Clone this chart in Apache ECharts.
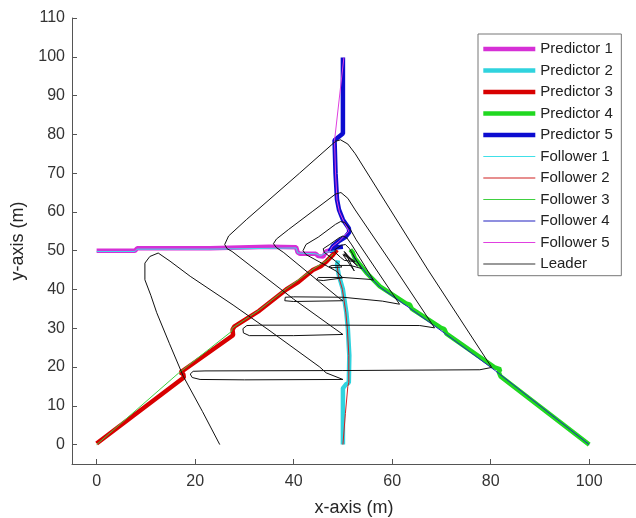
<!DOCTYPE html>
<html>
<head>
<meta charset="utf-8">
<title>Predictor / Follower trajectories</title>
<script src="https://cdn.jsdelivr.net/npm/echarts@6/dist/echarts.min.js"></script>
<style>
  body { margin: 0; background: #fff; }
</style>
</head>
<body>
<div id="main" style="width: 636px; height: 518px;"></div>
<script>
// tick labels
var xTicks = [0, 20, 40, 60, 80, 100];
var yTicks = [0, 10, 20, 30, 40, 50, 60, 70, 80, 90, 100, 110];

// thick lines (predictors), [x, y] in metres
var predictor1 = [[0,50],[7.8,50],[8.2,50.6],[23,50.6],[23.4,51.1],[35,51],[40.5,50.9],[40.8,49.6],[41.3,49.2],[44.5,49.2],[45,48.6],[46,48.5],[46.6,49.8],[47.8,50.3],[48.5,50]];
var predictor2 = [[50,0],[50,14.5],[50.6,15.5],[51.2,16],[51.3,23],[51,30],[50.7,34],[50,40],[49.2,43.5],[48.8,46.3],[49,47.5]];
var predictor3 = [[0,0.3],[17.7,17.3],[17.6,18.2],[17,18.6],[27.7,28.2],[27.6,29.7],[28,30.5],[33,34.5],[38.5,40],[41,42],[43.9,45],[45.5,46],[46.7,47.3],[48,49],[48.8,50.2]];
var predictor4 = [[100,0],[82,17.6],[81.6,18.8],[82,19.4],[80.8,19.9],[71,28.6],[70.6,29.8],[69.8,30.2],[64,35],[63.6,36.1],[62.8,36.4],[57.5,40.8],[54.8,44.3],[52.4,48.1],[52,49.5],[51.5,50.3]];
var predictor5 = [[50,99.8],[50,80.2],[48.3,78.5],[48.5,70],[48.8,63.2],[49.2,60.6],[50,58],[51.2,55.8],[51.3,54.8],[50.5,53.5],[49.2,52.5],[48,51.2],[47.3,49.8],[48.5,50.8],[50,51]];

// thin lines (followers)
var follower1 = [[0,49.8],[7.8,49.8],[8.2,50.4],[23,50.4],[23.4,50.9],[40.5,50.7],[40.8,49.4],[44.5,49.2],[45.5,48.7],[46.6,49.6],[48.5,50]];
var follower2 = [[50,0],[50.5,8],[51,15],[51.2,16],[51.2,23],[50.9,30],[50.6,34],[49.9,40],[49.1,43.5],[48.8,46.3]];
var follower3 = [[0,0],[16.6,18.4],[27.4,29.2],[27.5,30],[33,34.7],[38.5,40.2],[43.9,45.2],[46.7,47.5],[48,49.2]];
var follower4 = [[100,0],[81,19],[71,28.4],[64,34.8],[57.5,40.6],[54.8,44.1],[52.4,47.9],[52,49]];
var follower5 = [[50.2,99.8],[48.3,78.4],[48.5,70],[48.8,63],[49.3,60],[50.2,57.5],[51.2,55],[49.3,52.5],[47.8,51],[47.3,49.8]];

// leader spiral
var leader = [
  [25,0],[21.5,8.5],[17.6,17.6],[14.8,26],[12.2,34],[11,38.5],[9.8,42.5],[9.8,46.8],[10.8,48.5],[12.5,49.4],[14.9,47.3],
  [19,43.4],[27.7,36],[35,29.5],[45.3,20],[46.6,18.5],[50,16.8],
  [30,16.7],[21,16.8],[19.4,17.3],[19,18.2],[19.6,18.9],[22,19],[50,19.1],[77.8,19.3],[80.2,19.9],
  [67.3,45],[52.5,75],[51,77.5],[49.5,78.6],[48.5,78.2],
  [41.2,70],[30.4,58],[26.8,53.8],[26,51.6],[26.5,50.5],[27.5,49.8],[40,37.5],[48,30.2],[50,28.4],
  [40,28.1],[31,28.1],[29.8,28.8],[29.7,29.9],[30.5,30.7],[33,30.8],[50,30.8],[65.6,30.7],[68.6,30.1],
  [60.8,45],[52.5,60.5],[51,63.5],[49.6,65],[48.5,64.6],
  [43.9,60.2],[39,55.5],[36.5,53],[35.9,51.8],[36.5,50.8],[38,49.5],[49,38],[50,37.1],
  [40,36.9],[38.2,37.1],[37.8,37.6],[38.3,38],[40,38.1],[50,38],[58,37],[61.5,36.2],
  [52.7,52.8],[51.5,55.5],[50.3,57.3],[49.5,57.5],[48.5,56.8],
  [45,53.5],[42.5,51.6],[41.9,50],[42.5,49],[48.7,44.7],[50,43],
  [46,42.3],[44.6,42.5],[44.4,42.9],[45,43.1],[50,43.1],[55.5,42.6],[56.2,42.4],
  [53.5,48],[51.8,51.5],[50.8,53.3],[50,53.8],[49.2,53.3],
  [47.2,51.5],[46,50.5],[46.2,49.6],[48.5,47.3],[49.8,45.8],
  [47.8,45.6],[47.2,45.9],[47.8,46.2],[51.5,46.2],[53.8,45.4],
  [52.4,48.2],[51.3,50.6],[50.5,51.6],[49.7,51.4],[48.4,50.3],[48.4,49.6],[49.5,48.3],[50.3,47.5],
  [52.5,47.2],[50.2,49.2],[53,46],[50.4,49.6],[52.3,44.8],[50,49],[51.5,47.8],[50.2,49.9]
];

var colors = {
  p1: '#d630d6', p2: '#30d3de', p3: '#d80000', p4: '#20d820', p5: '#0c0cd0',
  f1: '#40e0e8', f2: '#d02020', f3: '#40d040', f4: '#2020c0', f5: '#e040e0', leader: '#111'
};

function line(name, data, color, width) {
  return {
    name: name,
    type: 'line',
    data: data,
    symbol: 'none',
    showSymbol: false,
    color: color,
    lineStyle: { color: color, width: width },
    animation: false,
    silent: true
  };
}

var thick = 'path://M0,0H52V4.5H0Z';
var thin = 'path://M0,0H52V1H0Z';
var font = 'Liberation Sans, Arial, sans-serif';

var option = {
  backgroundColor: '#fff',
  // fixed plot box, no auto shrink for labels
  grid: { left: 72, right: 0, top: 18, bottom: 54, containLabel: false, outerBoundsMode: 'none' },
  legend: {
    orient: 'vertical',
    left: 478,
    top: 34,
    padding: [7.5, 8.5, 4.2, 5.3],
    itemWidth: 52,
    itemHeight: 14,
    itemGap: 6.5,
    borderColor: '#777',
    borderWidth: 1,
    backgroundColor: '#fff',
    itemStyle: { borderWidth: 0 },
    textStyle: { fontSize: 15, color: '#222', fontFamily: font },
    data: [
      { name: 'Predictor 1', icon: thick },
      { name: 'Predictor 2', icon: thick },
      { name: 'Predictor 3', icon: thick },
      { name: 'Predictor 4', icon: thick },
      { name: 'Predictor 5', icon: thick },
      { name: 'Follower 1', icon: thin },
      { name: 'Follower 2', icon: thin },
      { name: 'Follower 3', icon: thin },
      { name: 'Follower 4', icon: thin },
      { name: 'Follower 5', icon: thin },
      { name: 'Leader', icon: 'path://M0,0H52V1.4H0Z', itemStyle: { color: '#777' } }
    ]
  },
  xAxis: {
    type: 'value',
    min: -5,
    max: 109.5,
    name: 'x-axis (m)',
    nameLocation: 'middle',
    nameGap: 35,
    nameTextStyle: { fontSize: 18, color: '#262626', fontFamily: font },
    splitLine: { show: false },
    axisLine: { onZero: false, lineStyle: { color: '#555', width: 1 } },
    axisTick: { inside: true, length: 5, customValues: xTicks, lineStyle: { color: '#555' } },
    axisLabel: { margin: 10, fontSize: 16, color: '#333', fontFamily: font, customValues: xTicks }
  },
  yAxis: {
    type: 'value',
    min: -5,
    max: 110,
    name: 'y-axis (m)',
    nameLocation: 'middle',
    nameGap: 38,
    nameTextStyle: { fontSize: 18, color: '#262626', fontFamily: font },
    splitLine: { show: false },
    axisLine: { show: true, onZero: false, lineStyle: { color: '#555', width: 1 } },
    axisTick: { show: true, inside: true, length: 5, customValues: yTicks, lineStyle: { color: '#555' } },
    axisLabel: { margin: 7, fontSize: 16, color: '#333', fontFamily: font, customValues: yTicks }
  },
  series: [
    line('Predictor 1', predictor1, colors.p1, 4.5),
    line('Predictor 2', predictor2, colors.p2, 4.5),
    line('Predictor 3', predictor3, colors.p3, 4.5),
    line('Predictor 4', predictor4, colors.p4, 4.5),
    line('Predictor 5', predictor5, colors.p5, 4.5),
    line('Follower 1', follower1, colors.f1, 1),
    line('Follower 2', follower2, colors.f2, 1),
    line('Follower 3', follower3, colors.f3, 1),
    line('Follower 4', follower4, colors.f4, 1),
    line('Follower 5', follower5, colors.f5, 1),
    line('Leader', leader, colors.leader, 1)
  ]
};

var myChart = echarts.init(document.getElementById('main'));
myChart.setOption(option);
</script>
</body>
</html>
